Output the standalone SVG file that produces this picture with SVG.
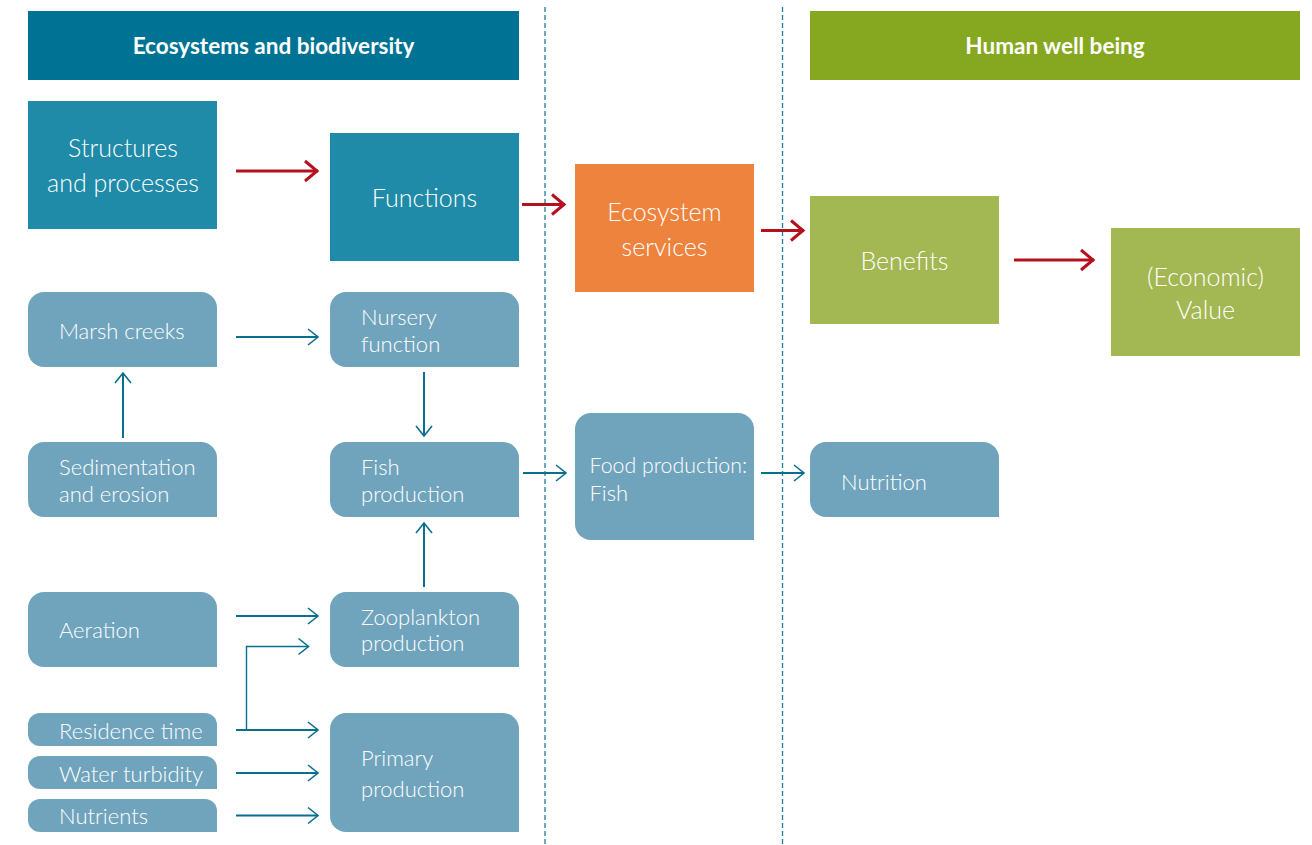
<svg xmlns="http://www.w3.org/2000/svg" width="1312" height="845" viewBox="0 0 1312 845">
<defs>
<style>
.hdr{font-family:Lato,"Liberation Sans",sans-serif;font-weight:bold;font-size:22.5px;fill:#fff;text-anchor:middle}
.big{font-family:Lato,"Liberation Sans",sans-serif;font-weight:300;font-size:25px;fill:#fff;text-anchor:middle}
.sm{font-family:Lato,"Liberation Sans",sans-serif;font-weight:300;font-size:22px;fill:#fff}
.lb{fill:#70A4BD}
.dk{fill:#1F8BA8}
.gr{fill:#A3B752}
.red{stroke:#B5101E;stroke-width:3;fill:none}
.blu{stroke:#0A6F8E;stroke-width:2;fill:none}
.thin{stroke:#0A6F8E;stroke-width:1.4;fill:none}
.dash{stroke:#1E7C9E;stroke-width:1.3;stroke-dasharray:5,3;fill:none}
</style>
<marker id="ar" markerUnits="userSpaceOnUse" markerWidth="30" markerHeight="30" refX="1" refY="0" viewBox="-15 -15 30 30" orient="auto" overflow="visible">
<path d="M-12,-10 L0,0 L-12,10" stroke="#B5101E" stroke-width="3" fill="none"/>
</marker>
<marker id="ab" markerUnits="userSpaceOnUse" markerWidth="30" markerHeight="30" refX="0" refY="0" viewBox="-15 -15 30 30" orient="auto" overflow="visible">
<path d="M-10,-8 L0,0 L-10,8" stroke="#0A6F8E" stroke-width="1.6" fill="none"/>
</marker>
</defs>
<rect width="1312" height="845" fill="#fff"/>
<g id="dividers">
<line class="dash" x1="545" y1="7" x2="545" y2="845"/>
<line class="dash" x1="782.5" y1="7" x2="782.5" y2="845"/>
</g>
<g id="header-ecosystems">
<rect x="28" y="11" width="491" height="69" fill="#007394"/>
<text class="hdr" x="273.5" y="54">Ecosystems and biodiversity</text>
</g>
<g id="header-human">
<rect x="810" y="11" width="490" height="69" fill="#86A821"/>
<text class="hdr" x="1055" y="54">Human well being</text>
</g>
<g id="structures">
<rect class="dk" x="28" y="101" width="189" height="128"/>
<text class="big" x="123" y="157">Structures</text>
<text class="big" x="123" y="192">and processes</text>
</g>
<g id="functions">
<rect class="dk" x="330" y="133" width="189" height="128"/>
<text class="big" x="424.5" y="207">Functions</text>
</g>
<g id="ecosystem-services">
<rect x="575" y="164" width="179" height="128" fill="#EE833D"/>
<text class="big" x="664.5" y="221">Ecosystem</text>
<text class="big" x="664.5" y="256">services</text>
</g>
<g id="benefits">
<rect class="gr" x="810" y="196" width="189" height="128"/>
<text class="big" x="904.5" y="270">Benefits</text>
</g>
<g id="value">
<rect class="gr" x="1111" y="228" width="189" height="128"/>
<text class="big" x="1205.5" y="286">(Economic)</text>
<text class="big" x="1205.5" y="319">Value</text>
</g>
<g id="marsh-creeks">
<path class="lb" d="M44,292 H201 A16,16 0 0 1 217,308 V367 H44 A16,16 0 0 1 28,351 V308 A16,16 0 0 1 44,292 Z"/>
<text class="sm" x="59" y="339">Marsh creeks</text>
</g>
<g id="nursery-function">
<path class="lb" d="M346,292 H503 A16,16 0 0 1 519,308 V367 H346 A16,16 0 0 1 330,351 V308 A16,16 0 0 1 346,292 Z"/>
<text class="sm" x="361" y="325">Nursery</text>
<text class="sm" x="361" y="352">function</text>
</g>
<g id="sedimentation">
<path class="lb" d="M44,442 H201 A16,16 0 0 1 217,458 V517 H44 A16,16 0 0 1 28,501 V458 A16,16 0 0 1 44,442 Z"/>
<text class="sm" x="59" y="475">Sedimentation</text>
<text class="sm" x="59" y="502">and erosion</text>
</g>
<g id="fish-production">
<path class="lb" d="M346,442 H503 A16,16 0 0 1 519,458 V517 H346 A16,16 0 0 1 330,501 V458 A16,16 0 0 1 346,442 Z"/>
<text class="sm" x="361" y="475">Fish</text>
<text class="sm" x="361" y="502">production</text>
</g>
<g id="food-production">
<path class="lb" d="M591,413 H738 A16,16 0 0 1 754,429 V540 H591 A16,16 0 0 1 575,524 V429 A16,16 0 0 1 591,413 Z"/>
<text class="sm" x="589.5" y="473" style="font-size:21.3px">Food production:</text>
<text class="sm" x="589.5" y="501">Fish</text>
</g>
<g id="nutrition">
<path class="lb" d="M826,442 H983 A16,16 0 0 1 999,458 V517 H826 A16,16 0 0 1 810,501 V458 A16,16 0 0 1 826,442 Z"/>
<text class="sm" x="841" y="490">Nutrition</text>
</g>
<g id="aeration">
<path class="lb" d="M44,592 H201 A16,16 0 0 1 217,608 V667 H44 A16,16 0 0 1 28,651 V608 A16,16 0 0 1 44,592 Z"/>
<text class="sm" x="59" y="638">Aeration</text>
</g>
<g id="zooplankton-production">
<path class="lb" d="M346,592 H503 A16,16 0 0 1 519,608 V667 H346 A16,16 0 0 1 330,651 V608 A16,16 0 0 1 346,592 Z"/>
<text class="sm" x="361" y="625">Zooplankton</text>
<text class="sm" x="361" y="651">production</text>
</g>
<g id="residence-time">
<path class="lb" d="M40,713 H205 A12,12 0 0 1 217,725 V746 H40 A12,12 0 0 1 28,734 V725 A12,12 0 0 1 40,713 Z"/>
<text class="sm" x="59" y="739">Residence time</text>
</g>
<g id="water-turbidity">
<path class="lb" d="M40,756 H205 A12,12 0 0 1 217,768 V789 H40 A12,12 0 0 1 28,777 V768 A12,12 0 0 1 40,756 Z"/>
<text class="sm" x="59" y="782">Water turbidity</text>
</g>
<g id="nutrients">
<path class="lb" d="M40,799 H205 A12,12 0 0 1 217,811 V832 H40 A12,12 0 0 1 28,820 V811 A12,12 0 0 1 40,799 Z"/>
<text class="sm" x="59" y="824">Nutrients</text>
</g>
<g id="primary-production">
<path class="lb" d="M346,713 H503 A16,16 0 0 1 519,729 V832 H346 A16,16 0 0 1 330,816 V729 A16,16 0 0 1 346,713 Z"/>
<text class="sm" x="361" y="766">Primary</text>
<text class="sm" x="361" y="797">production</text>
</g>
<g id="connectors">
<line class="red" x1="236" y1="171" x2="318" y2="171" marker-end="url(#ar)"/>
<line class="red" x1="522" y1="204.5" x2="565" y2="204.5" marker-end="url(#ar)"/>
<line class="red" x1="761" y1="230.5" x2="804" y2="230.5" marker-end="url(#ar)"/>
<line class="red" x1="1014" y1="260" x2="1094" y2="260" marker-end="url(#ar)"/>
<line class="blu" x1="236" y1="337" x2="318" y2="337" marker-end="url(#ab)"/>
<line class="blu" x1="123" y1="438" x2="123" y2="373" marker-end="url(#ab)"/>
<line class="blu" x1="424" y1="372" x2="424" y2="436" marker-end="url(#ab)"/>
<line class="blu" x1="424" y1="587" x2="424" y2="523" marker-end="url(#ab)"/>
<line class="blu" x1="523" y1="473" x2="566" y2="473" marker-end="url(#ab)"/>
<line class="blu" x1="761" y1="473" x2="804" y2="473" marker-end="url(#ab)"/>
<line class="blu" x1="236" y1="616" x2="318" y2="616" marker-end="url(#ab)"/>
<line class="blu" x1="236" y1="730" x2="318" y2="730" marker-end="url(#ab)"/>
<polyline class="thin" points="246.5,730 246.5,646.5 308.5,646.5" marker-end="url(#ab)"/>
<line class="blu" x1="236" y1="773" x2="318" y2="773" marker-end="url(#ab)"/>
<line class="blu" x1="236" y1="815.5" x2="318" y2="815.5" marker-end="url(#ab)"/>
</g>
</svg>
